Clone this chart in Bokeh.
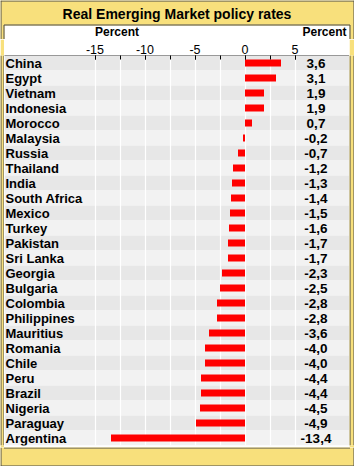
from bokeh.plotting import figure
from bokeh.layouts import column, row
from bokeh.models import LinearAxis, FixedTicker, Grid, Range1d, ColumnDataSource
from bokeh.core.properties import value
from bokeh.embed import file_html
from bokeh.resources import INLINE

# ---- data ----
countries = ["China", "Egypt", "Vietnam", "Indonesia", "Morocco", "Malaysia",
             "Russia", "Thailand", "India", "South Africa", "Mexico", "Turkey",
             "Pakistan", "Sri Lanka", "Georgia", "Bulgaria", "Colombia",
             "Philippines", "Mauritius", "Romania", "Chile", "Peru", "Brazil",
             "Nigeria", "Paraguay", "Argentina"]
rates = [3.6, 3.1, 1.9, 1.9, 0.7, -0.2, -0.7, -1.2, -1.3, -1.4, -1.5, -1.6,
         -1.7, -1.7, -2.3, -2.5, -2.8, -2.8, -3.6, -4.0, -4.0, -4.4, -4.4,
         -4.5, -4.9, -13.4]
major_ticks = [-15, -10, -5, 0, 5]
tick_labels = ["-15", "-10", "-5", "0", "5"]
minor_ticks = [-15, -12.5, -10, -7.5, -5, -2.5, 0, 2.5, 5]
title_text = "Real Emerging Market policy rates"
unit_text = "Percent"

# ---- geometry / style ----
W, H = 354, 466
X0PX, XSCALE = 244.5, 10.0      # page pixel of x=0, px per unit
FONT = "Liberation Sans"
YELLOW = "#F8E07C"
DARK = "#4a4a4a"
HEAD = 39                        # height of the header figure

def px2x(px):
    return (px - X0PX) / XSCALE

def deco(width, height, x0, y0):
    f = figure(width=width, height=height, output_backend="svg", toolbar_location=None,
               x_range=Range1d(x0, x0 + width), y_range=Range1d(y0 + height, y0),
               x_axis_location=None, y_axis_location=None, title_location=None,
               min_border=0, background_fill_color=YELLOW, border_fill_color=YELLOW,
               outline_line_color=None)
    f.xgrid.visible = False
    f.ygrid.visible = False
    return f

# ---- header: title bar + start of the white panel ----
top = deco(W, HEAD, 0, 0)
top.quad(left=[4], right=[349], top=[25], bottom=[HEAD], fill_color="white",
         line_color=None)
top.segment(x0=[0, 0.5, 353.5, 3.5, 3.5, 349.5], y0=[0.5, 0, 0, 24.5, 24.5, 24.5],
            x1=[354, 0.5, 353.5, 349.5, 3.5, 349.5], y1=[0.5, HEAD, HEAD, 24.5, HEAD, HEAD],
            line_color=DARK, line_width=1)
top.text(x=[176.5], y=[13], text=[title_text], text_font=value(FONT),
         text_font_style="bold", text_font_size="14px", text_align="center",
         text_baseline="middle", text_color="black")
top.text(x=[116.5, 324], y=[31.5, 31.5], text=[unit_text, unit_text], text_font=value(FONT),
         text_font_style="bold", text_font_size="12px", text_align="center",
         text_baseline="middle", text_color="black")

# ---- side strips ----
MH = 447 - HEAD
lstrip = deco(4, MH, 0, HEAD)
lstrip.segment(x0=[0.5, 3.5], y0=[HEAD, HEAD], x1=[0.5, 3.5], y1=[HEAD + MH, HEAD + MH],
               line_color=DARK, line_width=1)
rstrip = deco(5, MH, 349, HEAD)
rstrip.segment(x0=[349.5, 353.5], y0=[HEAD, HEAD], x1=[349.5, 353.5], y1=[HEAD + MH, HEAD + MH],
               line_color=DARK, line_width=1)

# ---- bottom strip ----
bot = deco(W, 19, 0, 447)
bot.segment(x0=[3.5, 0, 0.5, 353.5], y0=[447.5, 465.5, 447, 447],
            x1=[349.5, 354, 0.5, 353.5], y1=[447.5, 465.5, 466, 466],
            line_color=DARK, line_width=1)

# ---- main chart ----
n = len(countries)
idx = list(range(n))
labels = [f"{v:.1f}".replace(".", ",") for v in rates]
stripe_colors = ["#E7E7E7" if i % 2 == 0 else "#F2F2F2" for i in idx]
src = ColumnDataSource(dict(y=idx, country=countries, rate=rates,
                            label=labels, stripe=stripe_colors))

p = figure(width=345, height=MH, output_backend="svg", toolbar_location=None,
           x_range=Range1d(px2x(4), px2x(349)), y_range=Range1d(n - 0.5, -0.5),
           x_axis_location=None, y_axis_location=None, title_location=None,
           min_border_left=0, min_border_right=0, min_border_top=55 - HEAD,
           min_border_bottom=2,
           background_fill_color="white", border_fill_color="white",
           outline_line_color=None)
p.xgrid.visible = False
p.ygrid.visible = False

p.hbar(y="y", left=-40, right=40, height=1.0, source=src, fill_color="stripe",
       line_color=None, level="image")
p.add_layout(Grid(dimension=0, ticker=FixedTicker(ticks=minor_ticks),
                  grid_line_color="white", grid_line_width=1.2))
p.hbar(y="y", left=0, right="rate", height=0.47, source=src,
       fill_color="#FF0000", line_color=None)

p.text(x=px2x(5), y="y", text="country", source=src, text_font=value(FONT),
       text_font_style="bold", text_font_size="13px", text_baseline="middle",
       text_align="left", text_color="black")
p.text(x=px2x(315.5), y="y", text="label", source=src, text_font=value(FONT),
       text_font_style="bold", text_font_size="13.5px", text_baseline="middle",
       text_align="center", text_color="black")

# tick axis on top
axA = LinearAxis(ticker=FixedTicker(ticks=major_ticks, minor_ticks=minor_ticks),
                 major_label_overrides=dict(zip(major_ticks, tick_labels)),
                 axis_line_color="#999999", major_tick_in=4, major_tick_out=0,
                 minor_tick_in=4, minor_tick_out=0,
                 major_tick_line_color="black", minor_tick_line_color="black",
                 major_label_standoff=2, major_label_text_font=FONT,
                 major_label_text_font_size="12.5px", major_label_text_color="black")
p.add_layout(axA, "above")

layout = column(top, row(lstrip, p, rstrip), bot)
open("out.html", "w").write(file_html(layout, INLINE))
